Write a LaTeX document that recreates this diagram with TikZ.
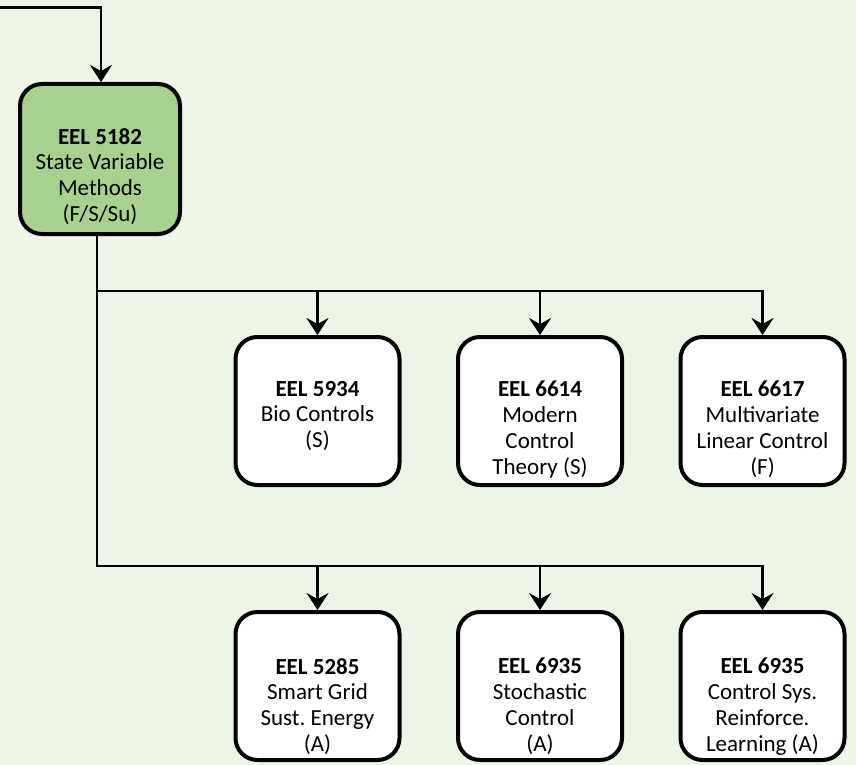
\documentclass[tikz,border=0pt]{standalone}
\usepackage{fontspec}
\setmainfont{Carlito}
\usetikzlibrary{arrows.meta}
\frenchspacing
\definecolor{pagebg}{RGB}{237,245,231}
\definecolor{corefill}{HTML}{A9D18E}
\newcommand\crsfont{\fontsize{23}{25.7}\selectfont}
\tikzset{
  course/.style={draw, line width=4pt, rounded corners=22pt, fill=white,
    minimum width=164pt, minimum height=148pt, inner sep=0pt},
  ctext/.style={anchor=north, align=center, font=\crsfont, inner sep=0pt},
  link/.style={line width=2.8pt},
  arr/.style={link, -{Stealth[length=17pt,width=22pt,inset=6pt]}},
}
\begin{document}
\begin{tikzpicture}[x=1pt,y=1pt]
  \fill[pagebg] (0,0) rectangle (856,-765);
  \useasboundingbox (0,0) rectangle (856,-765);

  % core course
  \node[course, fill=corefill, minimum width=160pt, minimum height=150pt] (g) at (100,-159) {};
  \node[ctext] (gt) at ([yshift=-46pt]g.north) {\textbf{EEL 5182}\\State Variable\\Methods\\(F/S/Su)};

  % first row of electives
  \node[course] (b1) at (317.5,-411) {};
  \node[ctext] (b1t) at ([yshift=-46pt]b1.north) {\textbf{EEL 5934}\\Bio Controls\\(S)};
  \node[course] (b2) at (540,-411) {};
  \node[ctext] (b2t) at ([yshift=-46pt]b2.north) {\textbf{EEL 6614}\\Modern\\Control\\Theory (S)};
  \node[course] (b3) at (762.5,-411) {};
  \node[ctext] (b3t) at ([yshift=-46pt]b3.north) {\textbf{EEL 6617}\\Multivariate\\Linear Control\\(F)};

  % second row of electives
  \node[course] (b4) at (317.5,-686) {};
  \node[ctext] (b4t) at ([yshift=-48pt]b4.north) {\textbf{EEL 5285}\\Smart Grid\\Sust. Energy\\(A)};
  \node[course] (b5) at (540,-686) {};
  \node[ctext] (b5t) at ([yshift=-48pt]b5.north) {\textbf{EEL 6935}\\Stochastic\\Control\\(A)};
  \node[course] (b6) at (762.5,-686) {};
  \node[ctext] (b6t) at ([yshift=-48pt]b6.north) {\textbf{EEL 6935}\\Control Sys.\\Reinforce.\\Learning (A)};

  % connectors
  \coordinate (src) at (0,-7.5);
  \coordinate (r1) at (0,-291);
  \coordinate (r2) at (0,-566);
  \coordinate (gin) at ([xshift=1pt]g.north);
  \coordinate (gout) at ([xshift=-3pt]g.south);

  \draw[arr] (src) -| (gin);
  \draw[arr] (gout) |- (r2 -| b6.north) -- (b6.north);
  \draw[arr] (gout |- r1) -| (b3.north);
  \draw[arr] (b1.north |- r1) -- (b1.north);
  \draw[arr] (b2.north |- r1) -- (b2.north);
  \draw[arr] (b4.north |- r2) -- (b4.north);
  \draw[arr] (b5.north |- r2) -- (b5.north);
\end{tikzpicture}
\end{document}
